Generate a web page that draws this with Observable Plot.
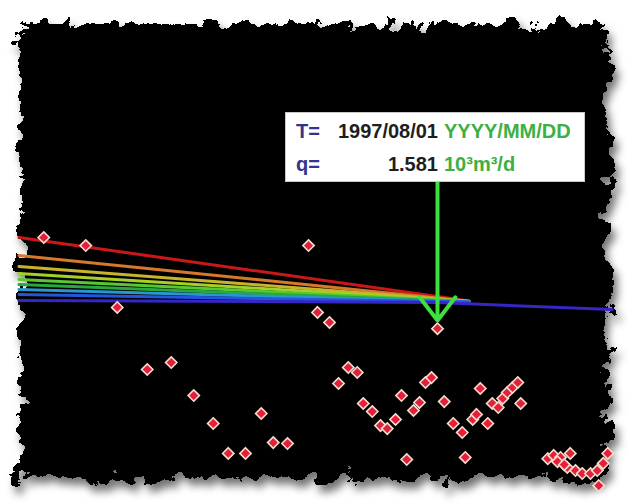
<!DOCTYPE html>
<html><head><meta charset="utf-8">
<script src="https://cdn.jsdelivr.net/npm/d3@7"></script>
<script src="https://cdn.jsdelivr.net/npm/@observablehq/plot@0.6"></script>
<style>
body{margin:0;background:#fff;width:632px;height:504px;overflow:hidden}
#wrap{position:relative;width:632px;height:504px}
#paper{position:absolute;left:20px;top:24px;width:588px;height:455px;background:#000;filter:url(#torn)}
#chart{position:absolute;left:0;top:0}
#tip{position:absolute;width:300px;height:70px;box-sizing:border-box;background:#fff;border:1px solid #c8c8c8;
 font:bold 20px "Liberation Sans",Arial,sans-serif;padding-top:2px}
.row{display:flex;height:33px;line-height:33px;white-space:nowrap}
.lab{width:36px;padding-left:10px;color:#34348a}
.val{width:106px;text-align:right;color:#1e1e1e}
.unit{margin-left:6px;color:#3cb043}
</style></head>
<body>
<svg width="0" height="0" style="position:absolute"><defs>
<filter id="torn" x="-6%" y="-6%" width="116%" height="118%" color-interpolation-filters="sRGB">
<feTurbulence type="fractalNoise" baseFrequency="0.06" numOctaves="4" seed="7" result="n"/>
<feDisplacementMap in="SourceGraphic" in2="n" scale="34" xChannelSelector="R" yChannelSelector="G" result="d"/>
<feDropShadow in="d" dx="4" dy="7" stdDeviation="4" flood-color="#000" flood-opacity="0.55"/>
</filter></defs></svg>
<div id="wrap"><div id="paper"></div><div id="chart"></div><div id="tip"></div></div>
<script>
// Measured points (decimal year, rate q in 10^3 m^3/d)
const pointYear = [1992.33,1992.89,1993.31,1995.86,1995.98,1996.14,1997.58,
 1993.71,1994.03,1994.33,1994.59,1995.23,1994.79,1995.02,1995.39,1995.58,
 1996.26,1996.39,1996.51,1996.59,1996.71,1996.82,1996.91,1997.02,1997.10,1997.17,
 1997.26,1997.34,1997.42,1997.50,1997.67,1997.79,1997.91,1997.95,1998.05,1998.10,
 1998.15,1998.25,1998.31,1998.39,1998.45,1998.51,1998.58,1998.65,1998.69,
 1999.05,1999.13,1999.22,1999.35,1999.31,1999.42,1999.51,1999.62,1999.71,1999.79,1999.85,1999.73,1999.18,1999.27];
const pointQ = [6.41,5.66,2.19,5.66,2.03,1.74,1.581,
 0.845,0.94,0.566,0.369,0.43,0.233,0.233,0.275,0.271,
 0.681,0.871,0.807,0.501,0.443,0.357,0.341,0.392,0.566,0.212,
 0.45,0.509,0.692,0.746,0.516,0.369,0.321,0.219,0.392,0.424,
 0.631,0.369,0.501,0.471,0.541,0.593,0.641,0.692,0.501,
 0.215,0.226,0.219,0.233,0.188,0.179,0.171,0.171,0.179,0.2,0.233,0.142,0.205,0.196];

// Forecast curves (one per decline exponent)
const curveNames = ["b1","b2","b3","b4","b5","b6","b7","b8"];
const curveStartYear = 1992.0;
const curveStartQ = [6.41,4.86,4.11,3.69,3.36,3.11,2.88,2.67];
const curveEndYear = 1998.0;
const curveEndQ = [2.42,2.41,2.41,2.40,2.40,2.39,2.39,2.38];

// Exponential decline line
const declineYear = [1992.0,1997.58,1999.91];
const declineQ = [2.44,2.36,2.12];

// Tooltip
const tipYear = 1997.58;
const tipDate = "1997/08/01";
const tipDateUnit = "YYYY/MM/DD";
const tipQ = "1.581";
const tipQUnit = "10³m³/d";
const arrowTopQ = 17.4;
const arrowTipQ = 1.79;

const points = pointYear.map((y,i)=>({year:y,q:pointQ[i]}));
const curves = curveNames.flatMap((c,i)=>[
  {curve:c,year:curveStartYear,q:curveStartQ[i]},
  {curve:c,year:curveEndYear,q:curveEndQ[i]}]);
const decline = declineYear.map((y,i)=>({year:y,q:declineQ[i]}));

const chart = Plot.plot({
  width:632,height:504,margin:0,
  x:{domain:[1992,2000],range:[18.5,618.5],axis:null},
  y:{type:"log",domain:[0.1,100],range:[508,58],axis:null},
  color:{domain:curveNames,range:["#c81818","#d8782a","#c8b42c","#a4d028","#58c830","#2aa840","#2a96cc","#2456dc"]},
  style:{background:"transparent",overflow:"visible"},
  marks:[
    Plot.line(curves,{x:"year",y:"q",z:"curve",stroke:"curve",strokeWidth:3}),
    Plot.line(decline,{x:"year",y:"q",stroke:"#3626c8",strokeWidth:3}),
    Plot.dot(points,{x:"year",y:"q",symbol:"diamond2",r:5.1,fill:"#e41f3c",stroke:"#f6dccb",strokeWidth:1.6}),
    Plot.arrow([{x:tipYear}],{x1:"x",x2:"x",y1:()=>arrowTopQ,y2:()=>arrowTipQ,stroke:"#3ee03e",strokeWidth:4,headLength:11,headAngle:75})
  ]
});
document.getElementById("chart").appendChild(chart);

const px = chart.scale("x").apply(tipYear);
const py = chart.scale("y").apply(arrowTopQ);
const tip = document.getElementById("tip");
tip.style.left = (px-152)+"px";
tip.style.top = (py-60)+"px";
tip.innerHTML =
 `<div class="row"><span class="lab">T=</span><span class="val">${tipDate}</span><span class="unit">${tipDateUnit}</span></div>`+
 `<div class="row"><span class="lab">q=</span><span class="val">${tipQ}</span><span class="unit">${tipQUnit}</span></div>`;
</script>
</body></html>
